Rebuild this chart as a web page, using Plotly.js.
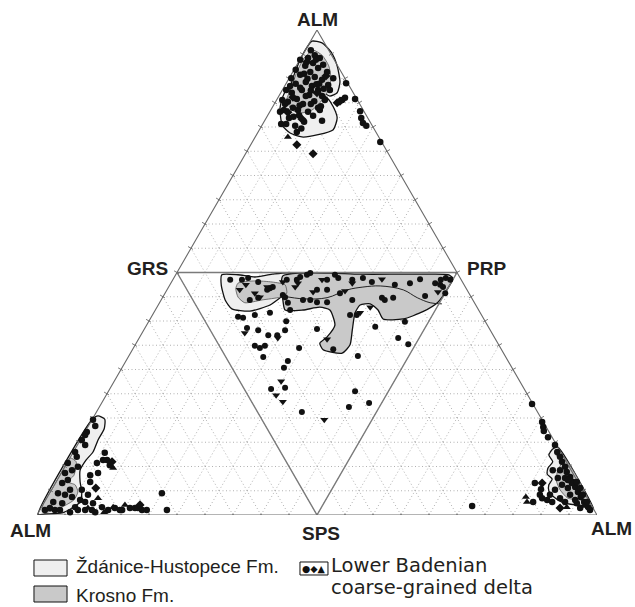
<!DOCTYPE html>
<html><head><meta charset="utf-8">
<script src="https://cdn.plot.ly/plotly-3.0.1.min.js"></script>
<style>html,body{margin:0;padding:0;background:#fff}#chart{width:635px;height:607px}</style>
</head><body><div id="chart"></div>
<script>
// Unfolded garnet diagram, coordinates in % of the big triangle side (x) and height units (y)
const H = 86.6;
const vertexLabels = ["ALM", "GRS", "PRP", "ALM", "SPS", "ALM"];
const legendLabels = ["Ždánice-Hustopece Fm.", "Krosno Fm.", "Lower Badenian", "coarse-grained delta"];

// ---- Top sub-triangle (ALM-GRS-PRP)
const topZdanice1X = [49.1,50.9,52.5,53.6,54.1,53.6,52.3,50.9,49.1,47.0,45.2,45.7,46.6,47.9];
const topZdanice1Y = [84.6,84.3,82.7,80.2,77.3,75.4,74.8,75.5,75.5,75.5,75.9,78.0,80.4,83.0];
const topZdanice2X = [44.3,46.6,50.2,51.8,52.9,53.6,52.9,50.2,47.3,45.2,43.8,43.4];
const topZdanice2Y = [75.5,76.3,75.5,74.5,72.9,70.9,68.8,67.9,67.5,68.2,69.6,72.7];
const topKrosnoX = [49.3,50.9,52.1,52.5,51.8,50.5,49.1,47.3,45.5,44.6,45.4,46.4,47.7];
const topKrosnoY = [83.0,82.1,80.2,77.7,75.4,73.6,72.3,71.8,72.3,74.1,76.3,79.1,81.6];
const topCircleX = [48.9,49.6,50.5,48.4,49.3,51.1,50.2,47.9,51.8,48.8,47.0,49.6,50.9,48.0,46.2,49.1,52.0,50.2,47.3,45.5,48.6,50.9,46.4,49.5,44.8,47.5,50.2,45.7,48.4,44.1,46.8,49.3,45.0,47.7,46.1,44.5,50.5,52.3,51.4,52.9,47.0,46.2,45.4,44.5,43.8,43.4,49.8,47.7,46.6,48.0,48.9,50.4,47.0,45.2,44.3,55.2,56.8,55.0,54.5,57.7,57.9,58.2,58.8,50.9,43.6,46.4,61.3,51.2,49.9,48.3,46.9,45.8,47.2,50.7,48.9];
const topCircleY = [83.0,82.1,81.6,81.6,80.7,80.4,79.8,80.2,79.1,79.1,78.6,78.2,77.7,77.3,77.0,76.6,76.8,75.9,75.9,75.4,75.0,74.8,74.3,73.9,73.8,73.4,72.7,72.7,72.0,72.3,71.4,71.3,70.9,70.2,69.5,69.8,72.3,75.9,74.1,78.0,81.3,79.5,78.0,75.9,74.1,72.0,81.3,78.8,72.3,74.8,73.4,77.0,76.3,76.6,73.4,77.1,74.3,74.5,74.1,72.1,70.9,70.0,69.5,70.4,69.8,68.4,66.6,76.1,76.9,77.9,73.1,71.1,69.0,73.0,75.8];
const topDiamondX = [53.6,54.1,48.2,45.7,50.0,47.3,51.6,44.8,49.3,46.4];
const topDiamondY = [73.6,73.9,80.9,74.6,75.4,70.7,78.4,71.9,64.5,66.1];
const topTriX = [44.8];
const topTriY = [67.5];

// ---- Central sub-triangle (GRS-PRP-SPS)
const cenZdanX = [33.0,35.9,38.9,42.0,45.2,46.1,44.8,43.8,41.6,38.0,34.8,33.6,32.9];
const cenZdanY = [42.9,42.9,42.5,43.0,43.2,42.0,39.8,39.1,37.5,36.4,36.8,38.4,41.1];
const cenKrosnoSmallX = [35.9,38.9,42.0,44.3,44.6,43.4,40.2,37.1,35.9,35.5];
const cenKrosnoSmallY = [41.4,41.8,41.6,41.1,39.6,38.9,38.4,37.9,38.9,40.4];
const cenKrosnoX = [43.9,47.0,52.3,57.7,64.8,70.2,73.4,74.3,73.2,71.6,68.9,65.4,61.8,60.9,59.5,57.7,56.8,56.3,55.9,54.5,51.1,50.5,51.8,53.2,52.3,50.5,47.5,44.3,43.9,43.6];
const cenKrosnoY = [42.7,43.2,43.2,43.0,43.0,43.0,42.9,42.3,40.2,38.0,36.3,35.0,35.0,36.6,37.7,37.5,36.1,33.0,30.4,28.9,29.5,30.7,31.8,33.9,36.6,37.1,36.6,36.6,38.4,40.5];
const cenInnerX = [43.9,47.5,51.8,55.4,58.2,61.3,65.4,67.9,70.2,72.3];
const cenInnerY = [39.1,38.6,38.8,40.2,40.7,40.9,40.2,38.8,37.9,37.7];
const cenCircleX = [34.5,36.6,37.7,39.5,38.0,39.5,41.1,41.6,42.1,43.9,44.3,44.8,45.2,41.6,38.9,35.9,36.8,37.5,39.5,41.3,42.9,44.3,44.5,38.9,39.8,40.7,40.4,46.8,44.8,44.1,41.8,44.3,47.3,50.0,46.4,47.0,48.2,48.8,50.0,51.8,51.8,53.8,54.1,56.3,58.2,57.1,55.9,51.8,50.0,47.5,48.8,52.9,57.3,60.4,61.6,62.1,63.6,66.6,65.7,64.5,66.3,68.4,71.1,72.0,72.5,72.9,73.8,73.0,72.1,56.3,56.8,59.3,55.7,44.6,53.2,59.8,63.9,69.3];
const cenCircleY = [42.0,42.0,42.3,41.6,38.4,38.8,40.2,40.5,40.7,39.3,38.9,37.9,36.6,36.1,35.7,35.4,35.2,33.4,33.0,32.1,32.1,33.0,34.6,30.2,29.8,30.2,28.2,29.8,27.5,26.3,22.5,22.7,18.4,33.2,42.0,42.5,42.9,43.2,40.2,42.0,40.2,42.3,39.6,42.0,42.3,35.7,35.7,38.0,38.0,38.4,38.4,29.6,28.4,33.6,38.8,38.4,38.8,41.4,34.5,31.6,30.5,42.1,41.4,41.1,40.7,39.6,42.0,42.3,42.0,38.4,22.1,20.0,19.3,42.0,42.9,41.6,41.1,39.1];
const cenTriX = [37.1,43.0,43.6,42.7,43.9,51.3,51.8,57.7,59.5,49.3,55.0,56.3,61.6,71.6,38.9,39.8,41.1,46.1,46.6,43.9,36.2,37.3,50.9];
const cenTriY = [32.5,31.6,23.9,21.4,20.2,17.0,31.4,36.1,37.1,39.8,40.0,41.4,42.1,39.8,39.6,38.9,40.7,40.7,41.4,41.6,40.2,41.1,42.0];

// ---- Bottom-left sub-triangle (ALM-GRS-SPS)
const blZdanX = [9.8,10.9,12.1,12.0,10.9,10.0,8.75,7.7,7.7,8.0,7.7,6.25,4.5,1.4,0.2];
const blZdanY = [17.0,17.7,17.1,15.4,13.4,11.25,9.8,8.0,5.9,4.1,2.3,1.25,0.36,0.18,0.1];
const blKrosnoX = [5.9,7.0,6.6,5.5,6.8,7.3,6.6,5.2,3.2,1.4,1.0,2.8,4.6];
const blKrosnoY = [10.2,9.5,7.1,5.9,5.4,4.1,2.7,1.8,0.9,0.5,1.6,4.8,8.0];
const blCircleX = [8.9,8.6,6.8,10.7,12.1,12.5,13.0,10.9,9.5,9.5,8.0,8.6,10.0,11.6,12.7,13.9,15.2,16.6,17.5,18.75,22.3,23.2,19.6,18.0,14.8,5.5,5.0,4.5,3.75,2.9,2.3,1.4,5.5,6.25,6.8,7.3,8.6,9.8,4.5,3.2,6.25,7.3,7.1,8.0,8.6,11.8,10.0,10.4,5.9,7.7,5.0,9.1,4.1,10.4,5.9];
const blCircleY = [14.8,12.5,11.25,9.3,11.1,9.8,8.9,7.5,7.1,5.9,4.5,2.3,2.1,1.4,0.9,1.25,0.9,1.25,1.25,0.9,3.9,0.9,0.9,1.25,0.9,9.3,7.5,5.7,3.9,2.3,1.25,0.9,6.25,3.2,1.4,0.9,0.9,0.9,2.1,0.9,8.0,8.6,10.4,13.4,14.3,9.8,17.0,15.9,4.5,2.7,3.6,3.6,0.9,0.5,0.5];
const blTriX = [13.6,10.9,13.6,15.7,9.1,12.0];
const blTriY = [8.4,3.0,1.4,1.8,1.25,0.5];
const blDiamondX = [13.4,10.5,18.4];
const blDiamondY = [9.5,4.8,1.8];

// ---- Bottom-right sub-triangle (ALM-PRP-SPS)
const brZdanX = [93.0,92.1,91.4,92.1,91.25,91.1,92.0,91.4,91.4,92.3,93.75,96.1,98.75,99.4];
const brZdanY = [12.1,11.8,10.7,9.5,8.4,7.3,6.4,5.4,4.3,3.2,2.3,1.8,1.6,1.1];
const brKrosnoX = [92.7,93.75,93.0,92.7,93.4,94.8,97.0,98.4,93.8];
const brKrosnoY = [10.7,9.5,8.0,6.25,4.5,3.0,2.7,2.7,10.7];
const brCircleX = [88.4,90.2,90.4,90.5,91.25,92.5,92.9,93.4,93.75,94.3,94.6,95.2,95.7,96.1,96.6,97.1,97.7,98.4,94.3,95.5,96.4,97.0,97.5,98.2,88.9,90.0,89.8,90.2,88.6,91.6,92.0,93.4,94.3,97.0,96.4,95.2,94.8,96.1,98.75,92.5,93.75,94.8,93.4,77.7,92.1,93.0,91.1];
const brCircleY = [19.8,16.6,15.7,15.0,13.9,12.5,11.25,10.4,9.5,8.6,7.7,6.8,5.9,5.0,4.1,3.2,2.3,1.4,6.6,5.7,5.9,4.8,3.6,2.3,5.7,4.6,3.6,3.0,2.3,3.6,2.3,3.0,2.3,1.25,2.1,3.6,4.8,2.7,0.9,4.5,5.4,6.25,8.0,1.6,8.0,6.6,2.7];
const brTriX = [87.5,87.3,94.6,97.7];
const brTriY = [2.3,3.2,1.4,1.6];
const brDiamondX = [90.2,93.4];
const brDiamondY = [5.7,1.25];

// ---------- build traces
const traces = [];
// dotted grid, 20 divisions
const gx = [], gy = [];
for (let k = 1; k < 20; k++) {
  const t = k / 20;
  gx.push(50 * t, 100 - 50 * t, null); gy.push(H * t, H * t, null);
  gx.push(100 * t, 100 * t + 50 * (1 - t), null); gy.push(0, H * (1 - t), null);
  gx.push(100 * t, 50 * t, null); gy.push(0, H * t, null);
}
traces.push({type:'scatter', mode:'lines', x:gx, y:gy, line:{color:'#a8a8a8', width:0.9, dash:'1px,2.5px'}, hoverinfo:'skip'});

function poly(xs, ys, fill, lc, lw) {
  return {type:'scatter', mode:'lines', x:xs.concat([xs[0]]), y:ys.concat([ys[0]]), fill:'toself',
    fillcolor:fill, line:{color:lc, width:lw, shape:'spline', smoothing:0.6}, hoverinfo:'skip', cliponaxis:false};
}
const LIGHT = '#efefef', DARK = '#c9c9c9';
traces.push(poly(topZdanice1X, topZdanice1Y, LIGHT, '#111', 1.3));
traces.push(poly(topZdanice2X, topZdanice2Y, LIGHT, '#111', 1.3));
traces.push(poly(topKrosnoX, topKrosnoY, DARK, '#555', 0.8));
traces.push(poly(cenZdanX, cenZdanY, LIGHT, '#111', 1.3));
traces.push(poly(cenKrosnoX, cenKrosnoY, DARK, '#111', 1.3));
traces.push(poly(cenKrosnoSmallX, cenKrosnoSmallY, DARK, '#555', 0.8));
traces.push({type:'scatter', mode:'lines', x:cenInnerX, y:cenInnerY, line:{color:'#222', width:1, shape:'spline'}, hoverinfo:'skip'});
traces.push(poly(blZdanX, blZdanY, LIGHT, '#111', 1.3));
traces.push(poly(blKrosnoX, blKrosnoY, DARK, '#555', 0.8));
traces.push(poly(brZdanX, brZdanY, LIGHT, '#111', 1.3));
traces.push(poly(brKrosnoX, brKrosnoY, DARK, '#555', 0.8));

// outer triangle and inner triangle
traces.push({type:'scatter', mode:'lines', x:[0,50,100,0], y:[0,H,0,0], line:{color:'#6a6a6a', width:1.1}, hoverinfo:'skip', cliponaxis:false});
traces.push({type:'scatter', mode:'lines', x:[25,75,50,25], y:[H/2,H/2,0,H/2], line:{color:'#7a7a7a', width:1.4}, hoverinfo:'skip', cliponaxis:false});

// ticks
const tx = [], ty = [];
const s3 = Math.sqrt(3) / 2;
for (let k = 1; k < 20; k++) {
  const t = k / 20;
  let px = 50 * t, py = H * t;
  tx.push(px + 0.4 * s3, px - 0.6 * s3, null); ty.push(py - 0.2, py + 0.3, null);
  px = 100 - 50 * t;
  tx.push(px - 0.4 * s3, px + 0.6 * s3, null); ty.push(py - 0.2, py + 0.3, null);
  px = 100 * t;
  tx.push(px, px, null); ty.push(0.3, -0.6, null);
}
traces.push({type:'scatter', mode:'lines', x:tx, y:ty, line:{color:'#6a6a6a', width:0.9}, hoverinfo:'skip', cliponaxis:false});

function pts(xs, ys, sym, size) {
  return {type:'scatter', mode:'markers', x:xs, y:ys, cliponaxis:false, hoverinfo:'skip',
    marker:{symbol:sym, size:size, color:'#111', line:{width:0}}};
}
traces.push(pts(topCircleX, topCircleY, 'circle', 6.5));
traces.push(pts(topDiamondX, topDiamondY, 'diamond', 7));
traces.push(pts(topTriX, topTriY, 'triangle-up', 7));
traces.push(pts(cenCircleX, cenCircleY, 'circle', 6));
traces.push(pts(cenTriX, cenTriY, 'triangle-down', 7));
traces.push(pts(blCircleX, blCircleY, 'circle', 6.5));
traces.push(pts(blTriX, blTriY, 'triangle-up', 7));
traces.push(pts(blDiamondX, blDiamondY, 'diamond', 7));
traces.push(pts(brCircleX, brCircleY, 'circle', 6.5));
traces.push(pts(brTriX, brTriY, 'triangle-up', 7));
traces.push(pts(brDiamondX, brDiamondY, 'diamond', 7));

const LF = {family:'Liberation Sans, Arial, sans-serif', size:19, color:'#231f20', weight:'bold'};
function vlab(text, x, y, xa, ya, xs, ys) {
  return {text:'<b>' + text + '</b>', x:x, y:y, xref:'x', yref:'y', showarrow:false, xanchor:xa, yanchor:ya,
    xshift:xs, yshift:ys, font:LF};
}
function ptxt(text, x, y, fam, size) {
  return {text:text, x:x, y:y, xref:'paper', yref:'paper', showarrow:false, xanchor:'left', yanchor:'middle',
    font:{family:fam, size:size, color:'#231f20'}};
}
const LEFTF = 'Liberation Sans, Arial, sans-serif', RIGHTF = 'DejaVu Sans, sans-serif';
const annotations = [
  vlab(vertexLabels[0], 50, H, 'center', 'bottom', 0, -2),
  vlab(vertexLabels[1], 25, H/2, 'right', 'middle', -7, 4),
  vlab(vertexLabels[2], 75, H/2, 'left', 'middle', 8, 4),
  vlab(vertexLabels[3], 0, 0, 'center', 'top', -7, -3),
  vlab(vertexLabels[4], 50, 0, 'center', 'top', 4, -6),
  vlab(vertexLabels[5], 100, 0, 'center', 'top', 14, -1),
  ptxt(legendLabels[0], 0.066, -0.1072, LEFTF, 19),
  ptxt(legendLabels[1], 0.066, -0.165, LEFTF, 19),
  ptxt(legendLabels[2], 0.522, -0.1031, RIGHTF, 19.5),
  ptxt(legendLabels[3], 0.522, -0.1485, RIGHTF, 19.5),
  {text:'●◆▲', x:0.4946, y:-0.1103, xref:'paper', yref:'paper', showarrow:false, xanchor:'center', yanchor:'middle',
   font:{family:'DejaVu Sans, sans-serif', size:9.5, color:'#111'}}
];
const shapes = [
  {type:'rect', xref:'paper', yref:'paper', x0:-0.0054, x1:0.0536, y0:-0.1258, y1:-0.0928, fillcolor:LIGHT, line:{color:'#111', width:1}},
  {type:'rect', xref:'paper', yref:'paper', x0:-0.0054, x1:0.0536, y0:-0.1794, y1:-0.1464, fillcolor:DARK, line:{color:'#111', width:1}},
  {type:'rect', xref:'paper', yref:'paper', x0:0.4696, x1:0.5196, y0:-0.1237, y1:-0.0969, fillcolor:'#fff', line:{color:'#111', width:1}}
];

const layout = {
  width:635, height:607, margin:{l:37, r:38, t:30, b:92, pad:0},
  paper_bgcolor:'#fff', plot_bgcolor:'#fff', showlegend:false,
  xaxis:{range:[0,100], visible:false, fixedrange:true},
  yaxis:{range:[0,H], visible:false, fixedrange:true},
  annotations:annotations, shapes:shapes
};
Plotly.newPlot('chart', traces, layout, {staticPlot:true, displayModeBar:false});
</script></body></html>
